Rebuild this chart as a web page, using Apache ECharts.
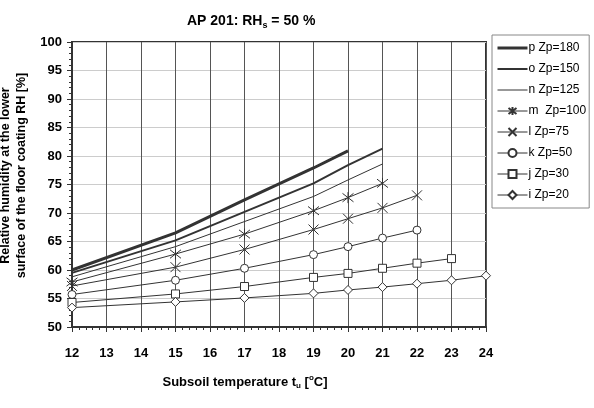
<!DOCTYPE html>
<html lang="en">
<head>
  <meta charset="UTF-8">
  <title>AP 201</title>
  <style>
    html, body { margin: 0; padding: 0; background: #fff; }
    #chart { width: 594px; height: 408px; }
  </style>
</head>
<body>
  <div id="chart"></div>
  <script src="https://cdn.jsdelivr.net/npm/echarts@6/dist/echarts.min.js"></script>
  <script>
    // subsoil temperature points [°C]
    var temps = [12, 15, 17, 19, 20, 21, 22, 23, 24];
    // relative humidity [%] for each Zp curve (null = no value)
    var rhP = [60.0, 66.5, 72.3, 77.9, 80.9, null, null, null, null];
    var rhO = [59.5, 65.2, 70.2, 75.2, 78.4, 81.3, null, null, null];
    var rhN = [58.8, 64.1, 68.5, 72.9, 75.8, 78.6, null, null, null];
    var rhM = [57.9, 62.8, 66.3, 70.4, 72.7, 75.2, null, null, null];
    var rhL = [57.2, 60.5, 63.6, 67.1, 69.0, 70.9, 73.1, null, null];
    var rhK = [55.7, 58.2, 60.3, 62.7, 64.1, 65.6, 67.0, null, null];
    var rhJ = [54.3, 55.8, 57.1, 58.7, 59.4, 60.3, 61.2, 62.0, null];
    var rhI = [53.4, 54.4, 55.1, 55.9, 56.5, 57.0, 57.6, 58.2, 59.0];

    var names = ['p Zp=180', 'o Zp=150', 'n Zp=125', 'm  Zp=100', 'l Zp=75', 'k Zp=50', 'j Zp=30', 'i Zp=20'];
    var widths = [3, 2, 1, 1, 1, 1, 1, 1];

    var font = '"Liberation Sans", Arial, sans-serif';
    var ink = '#333';

    // symbols drawn as outlines
    var crossPath = 'path://M0,0L10,10M10,0L0,10';
    var starPath = 'path://M0,0L10,10M10,0L0,10M5,-1.5L5,11.5';

    function pairs(vals) {
      var out = [];
      for (var i = 0; i < temps.length; i++) {
        if (vals[i] != null) out.push([temps[i], vals[i]]);
      }
      return out;
    }

    function line(idx, vals, symbol, size) {
      var plain = !symbol;
      return {
        name: names[idx],
        type: 'line',
        data: pairs(vals),
        symbol: symbol || 'rect',
        symbolSize: size || 8,
        showSymbol: !plain,
        lineStyle: { color: ink, width: widths[idx] },
        itemStyle: plain
          ? { color: 'rgba(0,0,0,0)', borderColor: 'rgba(0,0,0,0)', borderWidth: 0 }
          : { color: '#fff', borderColor: ink, borderWidth: 1 },
        emphasis: { disabled: true },
        animation: false
      };
    }

    var legendData = names.map(function (n, i) {
      return { name: n, lineStyle: { width: widths[i] } };
    });

    var option = {
      backgroundColor: '#fff',
      title: {
        text: 'AP 201: RH{sub|s} = 50 %',
        left: 182,
        top: 8,
        textStyle: {
          fontFamily: font, fontSize: 14, fontWeight: 'bold', color: '#000',
          rich: {
            sub: { fontFamily: font, fontSize: 9, fontWeight: 'bold', color: '#000', verticalAlign: 'bottom', padding: [8, 0, 0, 0] }
          }
        }
      },
      legend: {
        orient: 'vertical',
        left: 492,
        top: 35,
        itemWidth: 30,
        itemHeight: 10,
        itemGap: 9,
        padding: [7, 3, 7, 4],
        borderColor: '#888',
        borderWidth: 1,
        textStyle: { fontFamily: font, fontSize: 12, color: '#000', padding: [0, 0, 0, -4] },
        data: legendData
      },
      grid: {
        left: 72, right: 108, top: 42, bottom: 81,
        outerBoundsMode: 'none',
        containLabel: false,
        show: true,
        borderColor: ink,
        borderWidth: 2
      },
      xAxis: {
        type: 'value',
        min: 12, max: 24, interval: 1,
        name: 'Subsoil temperature t{sub|u} [{sup|o}C]',
        nameLocation: 'middle',
        nameGap: 47,
        nameTextStyle: {
          fontFamily: font, fontSize: 13, fontWeight: 'bold', color: '#000',
          padding: [0, 68, 0, 0],
          rich: {
            sub: { fontFamily: font, fontSize: 8, fontWeight: 'bold', color: '#000', verticalAlign: 'bottom', padding: [8, 0, 0, 0] },
            sup: { fontFamily: font, fontSize: 8, fontWeight: 'bold', color: '#000', verticalAlign: 'top', padding: [0, 0, 6, 0] }
          }
        },
        axisLine: { lineStyle: { color: ink, width: 2 } },
        axisTick: { show: true, length: 5, lineStyle: { color: ink } },
        minorTick: { show: true, splitNumber: 5, length: 3, lineStyle: { color: ink } },
        axisLabel: { fontFamily: font, fontSize: 13, fontWeight: 'bold', color: '#000', margin: 20 },
        splitLine: { show: true, lineStyle: { color: '#555', width: 1 } }
      },
      yAxis: {
        type: 'value',
        min: 50, max: 100, interval: 5,
        name: 'Relative humidity at the lower\nsurface of the floor coating RH [%]',
        nameLocation: 'middle',
        nameGap: 38,
        nameTextStyle: {
          fontFamily: font, fontSize: 12.5, fontWeight: 'bold', color: '#000', lineHeight: 16,
          padding: [0, 0, 0, 18]
        },
        axisLine: { lineStyle: { color: ink, width: 2 } },
        axisTick: { show: true, length: 5, lineStyle: { color: ink } },
        minorTick: { show: true, splitNumber: 5, length: 3, lineStyle: { color: ink } },
        axisLabel: { fontFamily: font, fontSize: 13, fontWeight: 'bold', color: '#000', margin: 10 },
        splitLine: { show: true, lineStyle: { color: '#ccc', width: 1 } }
      },
      series: [
        line(0, rhP),
        line(1, rhO),
        line(2, rhN),
        line(3, rhM, starPath, 11),
        line(4, rhL, crossPath, 10),
        line(5, rhK, 'circle', 8),
        line(6, rhJ, 'rect', 8),
        line(7, rhI, 'diamond', 9)
      ]
    };

    var myChart = echarts.init(document.getElementById('chart'));
    myChart.setOption(option);
  </script>
</body>
</html>
